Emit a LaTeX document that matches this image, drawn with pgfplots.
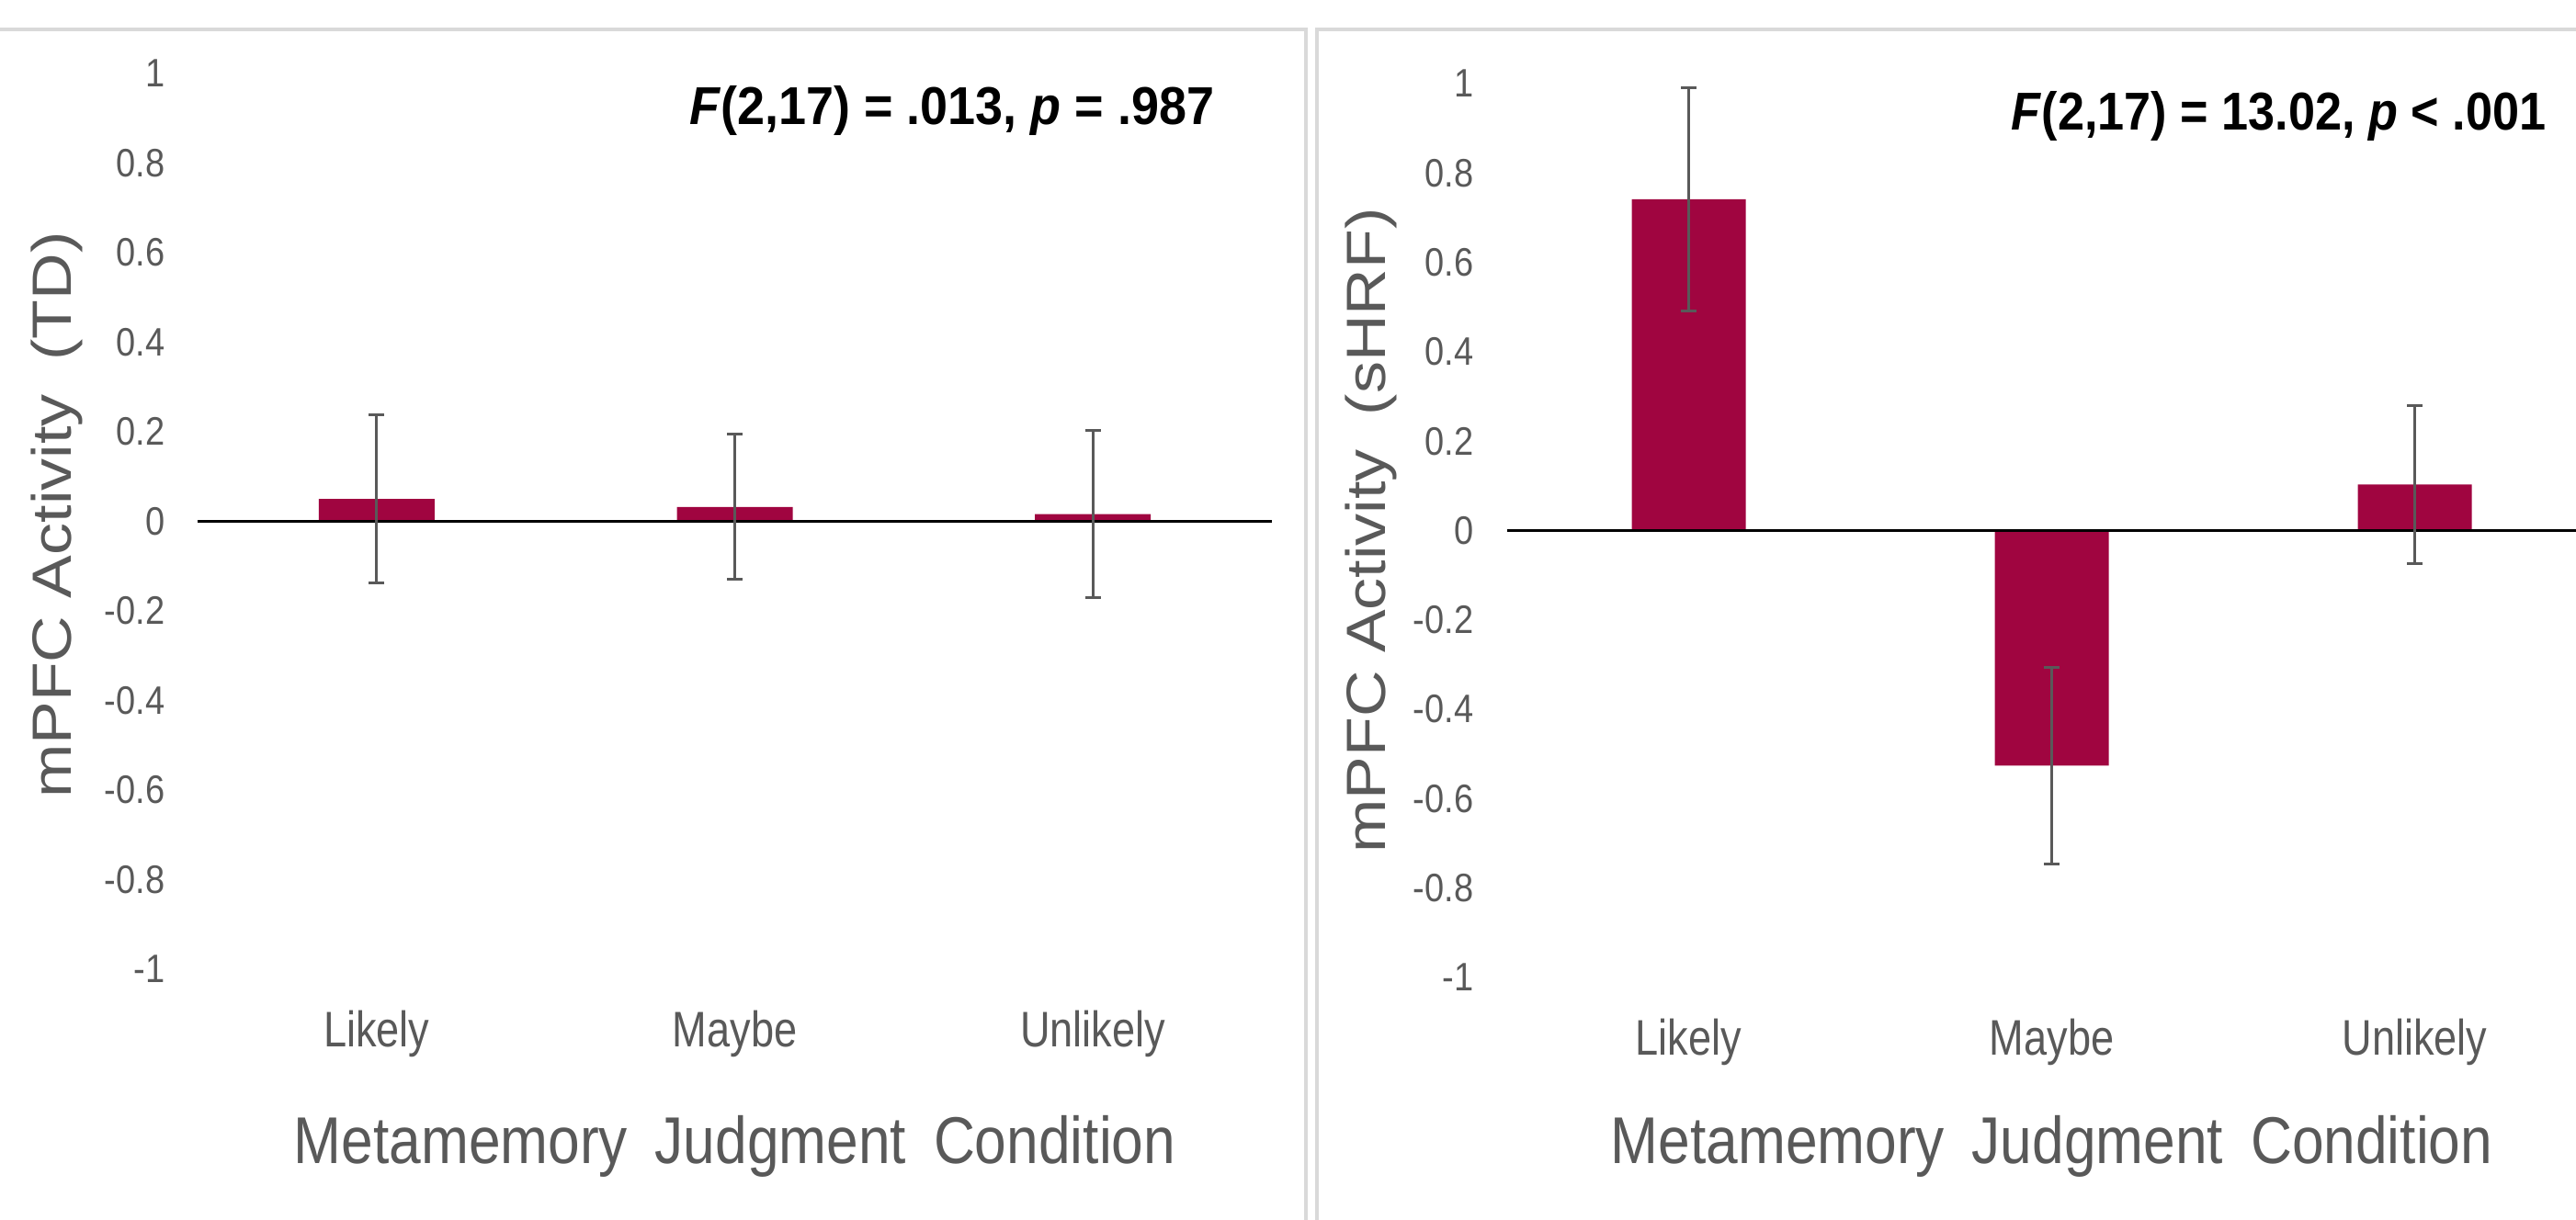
\documentclass[border=0pt]{standalone}
\usepackage{fontspec}
\setmainfont{Liberation Sans}
\usepackage{graphicx}
\usepackage{pgfplots}
\pgfplotsset{compat=1.18}
\definecolor{barc}{RGB}{160,5,64}
\definecolor{txt}{HTML}{595959}
\definecolor{errc}{HTML}{595959}
\definecolor{frm}{HTML}{D9D9D9}
\newcommand\sx[2]{\scalebox{#1}[1]{#2}}
\newcommand\yt[1]{\sx{0.88}{#1}}
\newcommand\ct[1]{\sx{0.83}{#1}}

\pgfplotstableread{
x y e
0.5 0.050 0.188
1.5 0.032 0.162
2.5 0.016 0.187
}\leftdata
\pgfplotstableread{
x y e
0.5 0.741 0.249
1.5 -0.526 0.220
2.5 0.103 0.176
}\rightdata

\pgfplotsset{panel/.style={
  scale only axis, anchor=south west,
  xmin=0, xmax=3, ymin=-1, ymax=1,
  axis line style={draw=none}, major tick length=0pt, tick style={draw=none},
  xtick={0.5,1.5,2.5},
  xticklabels={\ct{Likely},\ct{Maybe},\ct{Unlikely}},
  ytick={-1,-0.8,-0.6,-0.4,-0.2,0,0.2,0.4,0.6,0.8,1},
  yticklabels={\yt{-1},\yt{-0.8},\yt{-0.6},\yt{-0.4},\yt{-0.2},\yt{0},\yt{0.2},\yt{0.4},\yt{0.6},\yt{0.8},\yt{1}},
  xticklabel style={font=\fontsize{13.6}{15}\selectfont, text=txt, anchor=base, inner sep=0pt, yshift=-21.25pt},
  yticklabel style={font=\fontsize{10.8}{12}\selectfont, text=txt, anchor=east, inner sep=0pt},
  xlabel style={font=\fontsize{18}{20}\selectfont, text=txt, anchor=base, inner sep=0pt},
  ylabel style={font=\fontsize{17.5}{19}\selectfont, text=txt, anchor=center, inner sep=0pt},
  clip=false,
},
errplot/.style={draw=none, mark=none, forget plot,
  error bars/.cd, y dir=both, y explicit,
  error bar style={line width=0.75pt, draw=errc, solid},
  error mark options={rotate=90, mark size=2.1pt, line width=0.75pt, draw=errc, solid}}
}

\begin{document}
\begin{tikzpicture}
\path[use as bounding box] (0,0) rectangle (700.75pt,331.75pt);
\draw[frm, line width=0.875pt] (0,323.75pt) -- (355.25pt,323.75pt) -- (355.25pt,-2pt);
\draw[frm, line width=0.875pt] (358.25pt,-2pt) -- (358.25pt,323.75pt) -- (703pt,323.75pt);

% Left panel
\begin{axis}[panel,
  at={(53.75pt,68pt)}, width=292.25pt, height=243.75pt,
  yticklabel style={xshift=-8.75pt},
  xlabel={\sx{0.865}{Metamemory\hspace{0.2em} Judgment\hspace{0.2em} Condition}},
  xlabel style={at={(axis description cs:0.5,-0.2174)}},
  ylabel={\scalebox{1}[0.86]{mPFC Activity\hspace{0.25em} (TD)}},
  ylabel style={at={(axis description cs:-0.1309,0.507)}},
]
\addplot[ybar, bar width=31.5pt, fill=barc, draw=none] table[x=x,y=y]{\leftdata};
\draw[black, line width=0.95pt] (axis cs:0,0) -- (axis cs:3,0);
\addplot[errplot] table[x=x,y=y,y error=e]{\leftdata};
\node[anchor=base east, inner sep=0pt, font=\bfseries\fontsize{14.5}{16}\selectfont]
  at (axis description cs:0.947,0.9426) {\sx{0.93}{\textit{F}(2,17) = .013, \textit{p} = .987}};
\end{axis}

% Right panel
\begin{axis}[panel,
  at={(410pt,65.75pt)}, width=296.25pt, height=243.25pt,
  yticklabel style={xshift=-9pt},
  xlabel={\sx{0.865}{Metamemory\hspace{0.2em} Judgment\hspace{0.2em} Condition}},
  xlabel style={at={(axis description cs:0.5,-0.2086)}},
  ylabel={\scalebox{1}[0.86]{mPFC Activity\hspace{0.25em} (sHRF)}},
  ylabel style={at={(axis description cs:-0.125,0.5)}},
]
\addplot[ybar, bar width=31pt, fill=barc, draw=none] table[x=x,y=y]{\rightdata};
\draw[black, line width=0.95pt] (axis cs:0,0) -- (axis cs:3,0);
\addplot[errplot] table[x=x,y=y,y error=e]{\rightdata};
\node[anchor=base east, inner sep=0pt, font=\bfseries\fontsize{14.5}{16}\selectfont]
  at (axis description cs:0.9544,0.9476) {\sx{0.9}{\textit{F}(2,17) = 13.02, \textit{p} < .001}};
\end{axis}
\end{tikzpicture}
\end{document}
